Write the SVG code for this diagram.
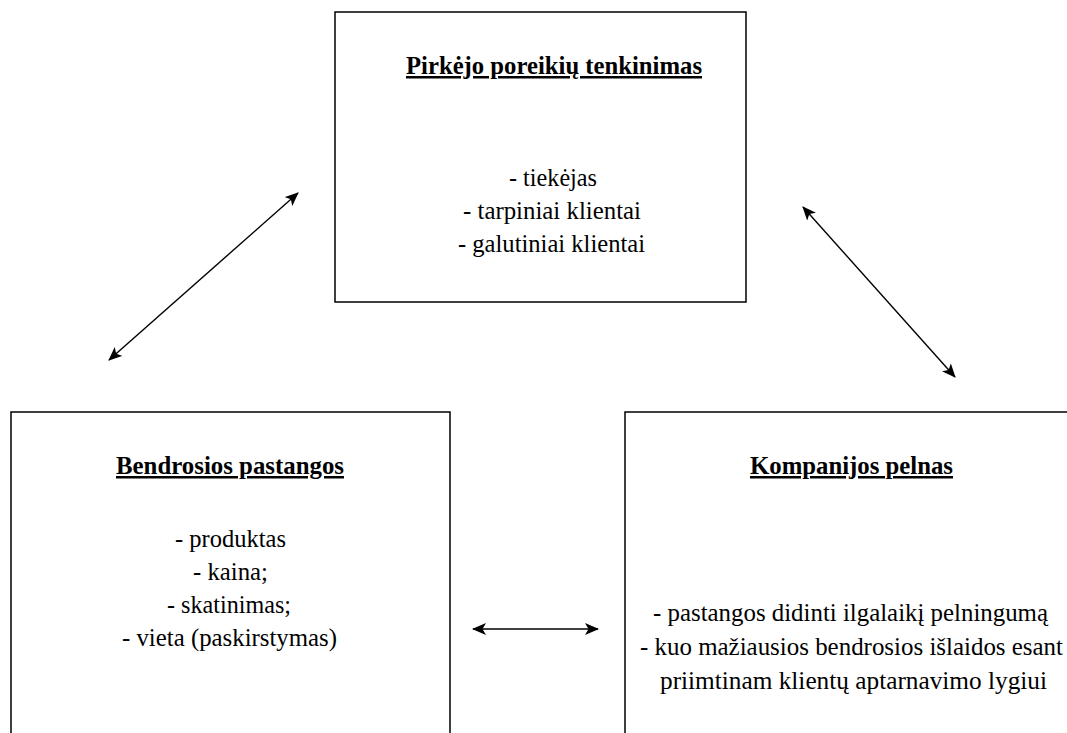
<svg xmlns="http://www.w3.org/2000/svg" width="1067" height="733" viewBox="0 0 1067 733">
  <style>
    .box { fill: #ffffff; stroke: #000000; stroke-width: 1.5; }
    text { font-size: 25px; text-anchor: middle; fill: #000000; }
    .title { font-weight: bold; text-decoration: underline; }
    .link { stroke: #000000; stroke-width: 1.4; fill: none; marker-start: url(#head); marker-end: url(#head); }
  </style>
  <defs>
    <marker id="head" viewBox="0 0 14 12" refX="13" refY="6" markerWidth="14" markerHeight="12" markerUnits="userSpaceOnUse" orient="auto-start-reverse">
      <path d="M0,0 L14,6 L0,12 L3.5,6 Z" fill="#000000"/>
    </marker>
  </defs>
  <rect width="1067" height="733" fill="#ffffff"/>

  <g font-family="Times New Roman, Liberation Serif, serif">
    <!-- customer needs -->
    <g id="pirkejo-poreikiai">
      <rect class="box" x="335" y="12" width="411" height="290"/>
      <text class="title" x="554" y="74" textLength="296" lengthAdjust="spacingAndGlyphs">Pirkėjo poreikių tenkinimas</text>
      <text x="553" y="186" textLength="88" lengthAdjust="spacingAndGlyphs">- tiekėjas</text>
      <text x="552" y="219" textLength="178" lengthAdjust="spacingAndGlyphs">- tarpiniai klientai</text>
      <text x="551.5" y="252" textLength="187" lengthAdjust="spacingAndGlyphs">- galutiniai klientai</text>
    </g>

    <!-- joint effort -->
    <g id="bendrosios-pastangos">
      <rect class="box" x="11" y="412" width="439" height="340"/>
      <text class="title" x="230" y="474" textLength="228" lengthAdjust="spacingAndGlyphs">Bendrosios pastangos</text>
      <text x="230.5" y="547" textLength="111" lengthAdjust="spacingAndGlyphs">- produktas</text>
      <text x="230.5" y="580" textLength="75" lengthAdjust="spacingAndGlyphs">- kaina;</text>
      <text x="229" y="613" textLength="124" lengthAdjust="spacingAndGlyphs">- skatinimas;</text>
      <text x="229.5" y="646" textLength="215" lengthAdjust="spacingAndGlyphs">- vieta (paskirstymas)</text>
    </g>

    <!-- company profit -->
    <g id="kompanijos-pelnas">
      <rect class="box" x="625" y="412" width="460" height="340"/>
      <text class="title" x="851.5" y="474" textLength="203" lengthAdjust="spacingAndGlyphs">Kompanijos pelnas</text>
      <text x="850.5" y="621" textLength="395" lengthAdjust="spacingAndGlyphs">- pastangos didinti ilgalaikį pelningumą</text>
      <text x="851.5" y="655" textLength="423" lengthAdjust="spacingAndGlyphs">- kuo mažiausios bendrosios išlaidos esant</text>
      <text x="853.5" y="689" textLength="387" lengthAdjust="spacingAndGlyphs">priimtinam klientų aptarnavimo lygiui</text>
    </g>
  </g>

  <!-- two-way links -->
  <g id="connectors">
    <line class="link" x1="109" y1="360" x2="298" y2="193"/>
    <line class="link" x1="803" y1="207" x2="955" y2="377"/>
    <line class="link" x1="473" y1="629" x2="598" y2="629"/>
  </g>
</svg>
